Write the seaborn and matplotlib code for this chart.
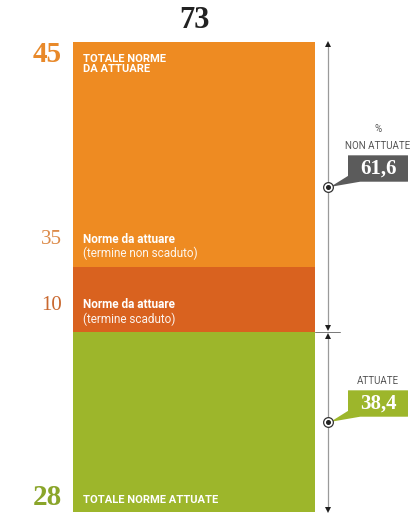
import matplotlib
matplotlib.use("Agg")
import matplotlib.pyplot as plt
import matplotlib.transforms as mtransforms
from matplotlib.patches import FancyBboxPatch, Polygon
import seaborn as sns
import pandas as pd

# Stacked composition of the 73 norms (bottom to top)
segments = ["Norme attuate",
            "Norme da attuare (termine scaduto)",
            "Norme da attuare (termine non scaduto)"]
counts = [28, 10, 35]
seg_colors = ["#9db62b", "#d9621f", "#ee8b22"]
total_norms = 73
to_implement = 45
pct_not_implemented = "61,6"
pct_implemented = "38,4"

sns.set_theme(style="white")
plt.rcParams["font.family"] = ["Liberation Sans Narrow", "Roboto", "DejaVu Sans"]

fig = plt.figure(figsize=(4.13, 5.13), dpi=100)
W, H = 413, 513
bar_left, bar_right, bar_top, bar_bottom = 73, 315, 42, 512
ax = fig.add_axes([bar_left / W, 1 - bar_bottom / H,
                   (bar_right - bar_left) / W, (bar_bottom - bar_top) / H])

# cumulative tops, drawn from the tallest down so each layer shows
tops = pd.Series(counts).cumsum().tolist()
for top, col in sorted(zip(tops, seg_colors), reverse=True):
    sns.barplot(x=["norme"], y=[top], color=col, saturation=1, width=1.0,
                ax=ax, linewidth=0)
ax.set_xlim(-0.5, 0.5)
ax.set_ylim(0, total_norms)
ax.axis("off")

serif = "Liberation Serif"
# Blended transform: x in axes fraction, y in data units
bt = mtransforms.blended_transform_factory(ax.transAxes, ax.transData)
def fx(px):
    return (px - bar_left) / (bar_right - bar_left)

# headline total
ax.text(0.5, total_norms + 3.3, f"{total_norms}", transform=bt, ha="center",
        va="center", family=serif, fontweight="bold", fontsize=22,
        color="#222222", clip_on=False)

lo, mid_top = tops[0], tops[1]
# left-side figures
ax.text(fx(62), total_norms - 2.0, f"{to_implement}", transform=bt, ha="right",
        va="center", family=serif, fontweight="bold", fontsize=21,
        color="#e8892a", clip_on=False)
ax.text(fx(62), mid_top + 4.3, f"{counts[2]}", transform=bt, ha="right",
        va="center", family=serif, fontsize=15, color="#dc8a48", clip_on=False)
ax.text(fx(62), lo + 4.0, f"{counts[1]}", transform=bt, ha="right",
        va="center", family=serif, fontsize=15, color="#c9682f", clip_on=False)
ax.text(fx(62), 2.2, f"{counts[0]}", transform=bt, ha="right",
        va="center", family=serif, fontweight="bold", fontsize=21,
        color="#8aa52a", clip_on=False)

# labels inside the bar
tx = fx(83)
ax.text(tx, total_norms - 1.9, "TOTALE NORME\nDA ATTUARE", transform=bt,
        ha="left", va="top", color="white", fontweight="bold", fontsize=8,
        linespacing=0.95)
ax.text(tx, mid_top + 4.4, "Norme da attuare", transform=bt, ha="left",
        va="center", color="white", fontweight="bold", fontsize=8.5)
ax.text(tx, mid_top + 2.2, "(termine non scaduto)", transform=bt, ha="left",
        va="center", color="white", fontsize=8.5, alpha=0.92)
ax.text(tx, lo + 4.2, "Norme da attuare", transform=bt, ha="left",
        va="center", color="white", fontweight="bold", fontsize=8.5)
ax.text(tx, lo + 2.0, "(termine scaduto)", transform=bt, ha="left",
        va="center", color="white", fontsize=8.5, alpha=0.92)
ax.text(tx, 1.9, "TOTALE NORME ATTUATE", transform=bt, ha="left",
        va="center", color="white", fontweight="bold", fontsize=8)

# measuring lines on the right, with small dark arrowheads
ax_x = fx(328)
for y_a, y_b in [(total_norms - 0.3, lo + 0.6), (lo - 0.6, 0.3)]:
    ax.plot([ax_x, ax_x], [y_a, y_b], transform=bt, color="#9a9a9a", lw=0.9,
            clip_on=False, zorder=2)
    ax.plot([ax_x], [y_a], transform=bt, marker="^", ms=4, color="#1e1e1e",
            mew=0, clip_on=False, zorder=3)
    ax.plot([ax_x], [y_b], transform=bt, marker="v", ms=4, color="#1e1e1e",
            mew=0, clip_on=False, zorder=3)
ax.plot([1.0, fx(340)], [lo, lo], transform=bt, color="#777777", lw=0.7,
        clip_on=False)

def callout(y_mid, value, title_lines, box_color):
    # marker on the measuring line
    ax.plot([ax_x], [y_mid], transform=bt, marker="o", ms=7, mfc="white",
            mec="#333333", mew=0.9, clip_on=False, zorder=5)
    ax.plot([ax_x], [y_mid], transform=bt, marker="o", ms=2.6, color="#222222",
            clip_on=False, zorder=6)
    x0, x1 = fx(348), fx(408)
    y0, y1 = y_mid + 0.8, y_mid + 4.9
    box = FancyBboxPatch((x0, y0), x1 - x0, y1 - y0, transform=bt,
                         boxstyle="round,pad=0,rounding_size=0.01",
                         fc=box_color, ec="none", clip_on=False, zorder=3)
    ax.add_patch(box)
    tail = Polygon([(ax_x + 0.01, y_mid), (x0, y0 + 0.9), (x0 + 0.05, y0)],
                   closed=True, transform=bt, fc=box_color, ec="none",
                   clip_on=False, zorder=3)
    ax.add_patch(tail)
    ax.text((x0 + x1) / 2, (y0 + y1) / 2, value, transform=bt, ha="center",
            va="center", family=serif, fontweight="bold", fontsize=15,
            color="white", zorder=4)
    for i, line in enumerate(reversed(title_lines)):
        ax.text((x0 + x1) / 2, y1 + 1.4 + i * 2.7, line, transform=bt,
                ha="center", va="center", fontsize=7, color="#555555")

callout((lo + total_norms) / 2, pct_not_implemented, ["%", "NON ATTUATE"],
        "#5b5b5b")
callout(lo / 2, pct_implemented, ["ATTUATE"], seg_colors[0])

fig.savefig("out.png", dpi=100)
